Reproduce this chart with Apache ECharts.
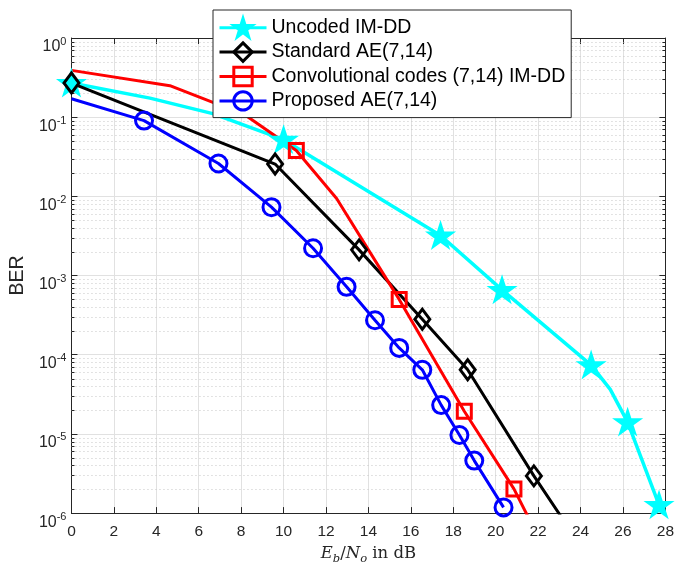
<!DOCTYPE html>
<html>
<head>
<meta charset="utf-8">
<script src="https://cdn.jsdelivr.net/npm/echarts@6/dist/echarts.min.js"></script>
<style>
html,body{margin:0;padding:0;background:#fff;}
#chart{width:677px;height:570px;}
</style>
</head>
<body>
<div id="chart"></div>
<script>
// ---- data ----
const seriesNames = ['Uncoded IM-DD', 'Standard AE(7,14)', 'Convolutional codes (7,14) IM-DD', 'Proposed AE(7,14)'];

const uncodedX = [0, 3.7, 6.66, 10.0, 17.4, 20.3, 24.5, 25.4, 26.22, 27.7];
const uncodedY = [0.27, 0.174, 0.111, 0.052, 3.2e-3, 6.6e-4, 7.4e-5, 3.65e-5, 1.41e-5, 1.27e-6];
const uncodedMarks = [0, 3, 4, 5, 6, 8, 9];

const stdX = [0, 9.6, 13.56, 16.54, 18.68, 21.8, 23.2];
const stdY = [0.27, 0.0256, 2.11e-3, 2.81e-4, 6.45e-5, 2.95e-6, 8.1e-7];
const stdMarks = [0, 1, 2, 3, 4, 5];

const convX = [0, 4.64, 8.15, 10.6, 12.5, 15.45, 18.52, 20.86, 21.6];
const convY = [0.39, 0.25, 0.108, 0.038, 9.4e-3, 5.0e-4, 1.93e-5, 2.02e-6, 8.2e-7];
const convMarks = [3, 5, 6, 7];

const propX = [0, 3.42, 6.93, 9.43, 11.39, 12.97, 14.31, 15.45, 16.54, 17.43, 18.29, 18.99, 20.37];
const propY = [0.171, 0.0906, 0.026, 7.3e-3, 2.21e-3, 7.2e-4, 2.73e-4, 1.22e-4, 6.45e-5, 2.31e-5, 9.7e-6, 4.6e-6, 1.18e-6];
const propMarks = [1, 2, 3, 4, 5, 6, 7, 8, 9, 10, 11, 12];

const xMin = 0, xMax = 28, xStep = 2;
const yMin = 1e-6, yMax = 1;
const minorMultipliers = [2, 3, 4, 5, 6, 7, 8, 9];

// ---- helpers ----
function starPath() {
  let d = '';
  for (let i = 0; i < 10; i++) {
    const r = i % 2 === 0 ? 1 : 0.382;
    const a = -Math.PI / 2 + i * Math.PI / 5;
    const x = (r * Math.cos(a)).toFixed(4), y = (r * Math.sin(a)).toFixed(4);
    d += (i === 0 ? 'M' : 'L') + x + ' ' + y + ' ';
  }
  return 'path://' + d + 'Z';
}
function build(xs, ys, marks) {
  return xs.map((x, i) => {
    const item = { value: [x, ys[i]] };
    if (marks.indexOf(i) < 0) item.symbol = 'none';
    return item;
  });
}
const minorVals = [];
for (let e = -6; e < 0; e++) minorMultipliers.forEach(m => minorVals.push(m * Math.pow(10, e)));

const txt = '#262626';
const font = 'Liberation Sans, Arial, Helvetica, sans-serif';

function lineSeries(name, xs, ys, marks, color, symbol, size, fill, lw) {
  return {
    name: name, type: 'line', xAxisIndex: 0, yAxisIndex: 0, z: 3,
    data: build(xs, ys, marks),
    symbol: symbol, symbolSize: size, showAllSymbol: true, clip: true,
    lineStyle: { color: color, width: lw },
    itemStyle: { color: fill, borderColor: color, borderWidth: 3 },
    emphasis: { disabled: true },
    animation: false
  };
}

const chart = echarts.init(document.getElementById('chart'), null, { renderer: 'canvas' });
const option = {
  animation: false,
  backgroundColor: '#fff',
  textStyle: { fontFamily: font },
  grid: { left: 71, right: 8, top: 38, bottom: 47, containLabel: false },
  legend: {
    data: seriesNames, orient: 'vertical', left: 213, top: 10,
    itemWidth: 47, itemHeight: 23, itemGap: 3,
    padding: [7, 6, 6, 5],
    backgroundColor: '#fff', borderColor: txt, borderWidth: 1,
    lineStyle: { width: 3 },
    itemStyle: { borderWidth: 3 },
    textStyle: { fontSize: 19.5, color: '#000', fontFamily: font },
    selectedMode: false
  },
  xAxis: [{
    type: 'value', min: xMin, max: xMax, interval: xStep, position: 'bottom',
    name: '{i|E}{s|b}{r|/}{i|N}{s|o}{r| in dB}', nameLocation: 'middle', nameGap: 29,
    nameTextStyle: {
      color: txt,
      rich: {
        i: { fontFamily: 'DejaVu Serif', fontStyle: 'italic', fontSize: 16.5, lineHeight: 17, verticalAlign: 'top', color: txt },
        r: { fontFamily: 'DejaVu Serif', fontSize: 16.5, lineHeight: 17, verticalAlign: 'top', color: txt },
        s: { fontFamily: 'DejaVu Serif', fontStyle: 'italic', fontSize: 11.5, lineHeight: 12, padding: [8, 0, 0, 0], verticalAlign: 'top', color: txt }
      }
    },
    axisLine: { show: true, onZero: false, lineStyle: { color: txt, width: 1 } },
    axisTick: { show: true, inside: true, length: 6, lineStyle: { color: txt } },
    axisLabel: { show: true, margin: 11, fontSize: 15.5, color: txt, fontFamily: font },
    splitLine: { show: true, lineStyle: { color: '#e1e1e1', width: 1 } }
  }, {
    type: 'value', min: xMin, max: xMax, interval: xStep, position: 'top',
    axisLine: { show: true, onZero: false, lineStyle: { color: txt, width: 1 } },
    axisTick: { show: true, inside: true, length: 6, lineStyle: { color: txt } },
    axisLabel: { show: false }, splitLine: { show: false }
  }],
  yAxis: [{
    type: 'log', logBase: 10, min: yMin, max: yMax, interval: 1, position: 'left',
    name: 'BER', nameLocation: 'middle', nameGap: 42, nameRotate: 90,
    nameTextStyle: { fontSize: 19.5, color: txt, fontFamily: font },
    axisLine: { show: true, onZero: false, lineStyle: { color: txt, width: 1 } },
    axisTick: { show: true, inside: true, length: 6, lineStyle: { color: txt } },
    axisLabel: {
      show: true, margin: 5, color: txt,
      formatter: function (v) { return '{a|10}{b|' + Math.round(Math.log10(v)) + '}'; },
      rich: {
        a: { fontSize: 16, lineHeight: 16, padding: [9, 0, 0, 0], verticalAlign: 'top', color: txt, fontFamily: font },
        b: { fontSize: 11, lineHeight: 11, padding: [6, 0, 0, 0], verticalAlign: 'top', color: txt, fontFamily: font }
      }
    },
    splitLine: { show: true, lineStyle: { color: '#e1e1e1', width: 1 } },
    minorTick: { show: false }, minorSplitLine: { show: false }
  }, {
    type: 'log', logBase: 10, min: yMin, max: yMax, interval: 1, position: 'right',
    axisLine: { show: true, onZero: false, lineStyle: { color: txt, width: 1 } },
    axisTick: { show: true, inside: true, length: 6, lineStyle: { color: txt } },
    axisLabel: { show: false }, splitLine: { show: false }
  }],
  series: [
    {
      type: 'custom', name: 'minor', coordinateSystem: 'cartesian2d', xAxisIndex: 0, yAxisIndex: 0,
      silent: true, z: 1, clip: false,
      data: minorVals.map(v => [xMin, v]),
      renderItem: function (params, api) {
        const v = api.value(1);
        const p0 = api.coord([xMin, v]);
        const p1 = api.coord([xMax, v]);
        const y = Math.round(p0[1]) + 0.5;
        return {
          type: 'group', children: [
            { type: 'line', shape: { x1: p0[0], y1: y, x2: p1[0], y2: y }, style: { stroke: '#c6c6c6', lineWidth: 1, lineDash: [1, 3] } },
            { type: 'line', shape: { x1: p0[0], y1: y, x2: p0[0] + 3, y2: y }, style: { stroke: txt, lineWidth: 1 } },
            { type: 'line', shape: { x1: p1[0], y1: y, x2: p1[0] - 3, y2: y }, style: { stroke: txt, lineWidth: 1 } }
          ]
        };
      },
      animation: false
    },
    lineSeries(seriesNames[0], uncodedX, uncodedY, uncodedMarks, '#00FFFF', starPath(), [22, 21], '#00FFFF', 3.5),
    lineSeries(seriesNames[1], stdX, stdY, stdMarks, '#000000', 'diamond', [15, 20], 'rgba(255,255,255,0)', 3),
    lineSeries(seriesNames[2], convX, convY, convMarks, '#FF0000', 'rect', 14, 'rgba(255,255,255,0)', 3),
    lineSeries(seriesNames[3], propX, propY, propMarks, '#0000FF', 'circle', 17, 'rgba(255,255,255,0)', 3)
  ]
};
chart.setOption(option);
</script>
</body>
</html>
